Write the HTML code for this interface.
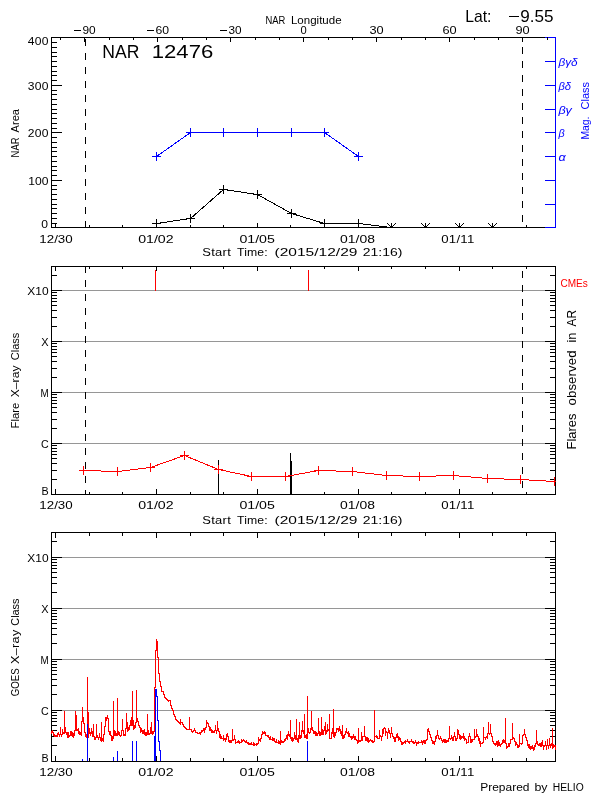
<!DOCTYPE html>
<html><head><meta charset="utf-8"><style>
html,body{margin:0;padding:0;background:#fff;width:600px;height:800px;overflow:hidden}
svg{display:block}
text{font-family:"Liberation Sans",sans-serif}
</style></head><body>
<svg style="will-change:transform" width="600" height="800" viewBox="0 0 600 800" shape-rendering="crispEdges">
<rect x="0" y="0" width="600" height="800" fill="#fff"/>
<rect x="51" y="37" width="505" height="1" fill="#000"/>
<rect x="51" y="227" width="505" height="1" fill="#000"/>
<rect x="51" y="37" width="1" height="191" fill="#000"/>
<rect x="555" y="37" width="1" height="191" fill="#0000ff"/>
<rect x="51" y="227" width="11" height="1" fill="#000"/>
<rect x="51" y="223" width="6" height="1" fill="#000"/>
<rect x="51" y="218" width="6" height="1" fill="#000"/>
<rect x="51" y="213" width="6" height="1" fill="#000"/>
<rect x="51" y="208" width="6" height="1" fill="#000"/>
<rect x="51" y="204" width="6" height="1" fill="#000"/>
<rect x="51" y="199" width="6" height="1" fill="#000"/>
<rect x="51" y="194" width="6" height="1" fill="#000"/>
<rect x="51" y="189" width="6" height="1" fill="#000"/>
<rect x="51" y="185" width="6" height="1" fill="#000"/>
<rect x="51" y="180" width="11" height="1" fill="#000"/>
<rect x="51" y="175" width="6" height="1" fill="#000"/>
<rect x="51" y="170" width="6" height="1" fill="#000"/>
<rect x="51" y="166" width="6" height="1" fill="#000"/>
<rect x="51" y="161" width="6" height="1" fill="#000"/>
<rect x="51" y="156" width="6" height="1" fill="#000"/>
<rect x="51" y="151" width="6" height="1" fill="#000"/>
<rect x="51" y="147" width="6" height="1" fill="#000"/>
<rect x="51" y="142" width="6" height="1" fill="#000"/>
<rect x="51" y="137" width="6" height="1" fill="#000"/>
<rect x="51" y="132" width="11" height="1" fill="#000"/>
<rect x="51" y="128" width="6" height="1" fill="#000"/>
<rect x="51" y="123" width="6" height="1" fill="#000"/>
<rect x="51" y="118" width="6" height="1" fill="#000"/>
<rect x="51" y="113" width="6" height="1" fill="#000"/>
<rect x="51" y="109" width="6" height="1" fill="#000"/>
<rect x="51" y="104" width="6" height="1" fill="#000"/>
<rect x="51" y="99" width="6" height="1" fill="#000"/>
<rect x="51" y="94" width="6" height="1" fill="#000"/>
<rect x="51" y="90" width="6" height="1" fill="#000"/>
<rect x="51" y="85" width="11" height="1" fill="#000"/>
<rect x="51" y="80" width="6" height="1" fill="#000"/>
<rect x="51" y="75" width="6" height="1" fill="#000"/>
<rect x="51" y="71" width="6" height="1" fill="#000"/>
<rect x="51" y="66" width="6" height="1" fill="#000"/>
<rect x="51" y="61" width="6" height="1" fill="#000"/>
<rect x="51" y="56" width="6" height="1" fill="#000"/>
<rect x="51" y="52" width="6" height="1" fill="#000"/>
<rect x="51" y="47" width="6" height="1" fill="#000"/>
<rect x="51" y="42" width="6" height="1" fill="#000"/>
<rect x="51" y="37" width="11" height="1" fill="#000"/>
<rect x="545" y="227" width="11" height="1" fill="#0000ff"/>
<rect x="545" y="204" width="11" height="1" fill="#0000ff"/>
<rect x="545" y="180" width="11" height="1" fill="#0000ff"/>
<rect x="545" y="156" width="11" height="1" fill="#0000ff"/>
<rect x="545" y="132" width="11" height="1" fill="#0000ff"/>
<rect x="545" y="109" width="11" height="1" fill="#0000ff"/>
<rect x="545" y="85" width="11" height="1" fill="#0000ff"/>
<rect x="545" y="61" width="11" height="1" fill="#0000ff"/>
<rect x="545" y="37" width="11" height="1" fill="#0000ff"/>
<rect x="555" y="37" width="1" height="191" fill="#0000ff"/>
<rect x="55" y="223" width="1" height="5" fill="#000"/>
<rect x="89" y="225" width="1" height="3" fill="#000"/>
<rect x="122" y="225" width="1" height="3" fill="#000"/>
<rect x="156" y="223" width="1" height="5" fill="#000"/>
<rect x="190" y="225" width="1" height="3" fill="#000"/>
<rect x="223" y="225" width="1" height="3" fill="#000"/>
<rect x="257" y="223" width="1" height="5" fill="#000"/>
<rect x="290" y="225" width="1" height="3" fill="#000"/>
<rect x="324" y="225" width="1" height="3" fill="#000"/>
<rect x="358" y="223" width="1" height="5" fill="#000"/>
<rect x="391" y="225" width="1" height="3" fill="#000"/>
<rect x="425" y="225" width="1" height="3" fill="#000"/>
<rect x="459" y="223" width="1" height="5" fill="#000"/>
<rect x="492" y="225" width="1" height="3" fill="#000"/>
<rect x="526" y="225" width="1" height="3" fill="#000"/>
<rect x="60" y="37" width="1" height="3" fill="#000"/>
<rect x="84" y="37" width="1" height="5" fill="#000"/>
<rect x="109" y="37" width="1" height="3" fill="#000"/>
<rect x="133" y="37" width="1" height="3" fill="#000"/>
<rect x="157" y="37" width="1" height="5" fill="#000"/>
<rect x="182" y="37" width="1" height="3" fill="#000"/>
<rect x="206" y="37" width="1" height="3" fill="#000"/>
<rect x="230" y="37" width="1" height="5" fill="#000"/>
<rect x="255" y="37" width="1" height="3" fill="#000"/>
<rect x="279" y="37" width="1" height="3" fill="#000"/>
<rect x="303" y="37" width="1" height="5" fill="#000"/>
<rect x="328" y="37" width="1" height="3" fill="#000"/>
<rect x="352" y="37" width="1" height="3" fill="#000"/>
<rect x="376" y="37" width="1" height="5" fill="#000"/>
<rect x="401" y="37" width="1" height="3" fill="#000"/>
<rect x="425" y="37" width="1" height="3" fill="#000"/>
<rect x="449" y="37" width="1" height="5" fill="#000"/>
<rect x="474" y="37" width="1" height="3" fill="#000"/>
<rect x="498" y="37" width="1" height="3" fill="#000"/>
<rect x="522" y="37" width="1" height="5" fill="#000"/>
<rect x="547" y="37" width="1" height="3" fill="#000"/>
<rect x="85" y="39" width="1" height="7" fill="#000"/>
<rect x="85" y="53" width="1" height="7" fill="#000"/>
<rect x="85" y="67" width="1" height="7" fill="#000"/>
<rect x="85" y="81" width="1" height="7" fill="#000"/>
<rect x="85" y="95" width="1" height="7" fill="#000"/>
<rect x="85" y="109" width="1" height="7" fill="#000"/>
<rect x="85" y="123" width="1" height="7" fill="#000"/>
<rect x="85" y="137" width="1" height="7" fill="#000"/>
<rect x="85" y="151" width="1" height="7" fill="#000"/>
<rect x="85" y="165" width="1" height="7" fill="#000"/>
<rect x="85" y="179" width="1" height="7" fill="#000"/>
<rect x="85" y="193" width="1" height="7" fill="#000"/>
<rect x="85" y="207" width="1" height="7" fill="#000"/>
<rect x="85" y="221" width="1" height="7" fill="#000"/>
<rect x="522" y="37" width="1" height="3" fill="#000"/>
<rect x="522" y="47" width="1" height="7" fill="#000"/>
<rect x="522" y="61" width="1" height="7" fill="#000"/>
<rect x="522" y="75" width="1" height="7" fill="#000"/>
<rect x="522" y="89" width="1" height="7" fill="#000"/>
<rect x="522" y="103" width="1" height="7" fill="#000"/>
<rect x="522" y="117" width="1" height="7" fill="#000"/>
<rect x="522" y="131" width="1" height="7" fill="#000"/>
<rect x="522" y="145" width="1" height="7" fill="#000"/>
<rect x="522" y="159" width="1" height="7" fill="#000"/>
<rect x="522" y="173" width="1" height="7" fill="#000"/>
<rect x="522" y="187" width="1" height="7" fill="#000"/>
<rect x="522" y="201" width="1" height="7" fill="#000"/>
<rect x="522" y="215" width="1" height="7" fill="#000"/>
<polyline points="156.5,156.5 190.5,132.5 223.5,132.5 257.5,132.5 291.5,132.5 324.5,132.5 358.5,156.5" fill="none" stroke="#0000ff" stroke-width="1"/>
<rect x="152" y="156" width="9" height="1" fill="#0000ff"/>
<rect x="156" y="152" width="1" height="9" fill="#0000ff"/>
<rect x="186" y="132" width="9" height="1" fill="#0000ff"/>
<rect x="190" y="128" width="1" height="9" fill="#0000ff"/>
<rect x="219" y="132" width="9" height="1" fill="#0000ff"/>
<rect x="223" y="128" width="1" height="9" fill="#0000ff"/>
<rect x="253" y="132" width="9" height="1" fill="#0000ff"/>
<rect x="257" y="128" width="1" height="9" fill="#0000ff"/>
<rect x="287" y="132" width="9" height="1" fill="#0000ff"/>
<rect x="291" y="128" width="1" height="9" fill="#0000ff"/>
<rect x="320" y="132" width="9" height="1" fill="#0000ff"/>
<rect x="324" y="128" width="1" height="9" fill="#0000ff"/>
<rect x="354" y="156" width="9" height="1" fill="#0000ff"/>
<rect x="358" y="152" width="1" height="9" fill="#0000ff"/>
<polyline points="156.5,223.5 190.5,218.5 223.5,189.5 257.5,194.5 291.5,213.5 324.5,223.5 358.5,223.5 391.5,227.5 425.5,227.5 459.5,227.5 492.5,227.5" fill="none" stroke="#000" stroke-width="1"/>
<rect x="152" y="223" width="9" height="1" fill="#000"/>
<rect x="156" y="219" width="1" height="9" fill="#000"/>
<rect x="186" y="218" width="9" height="1" fill="#000"/>
<rect x="190" y="214" width="1" height="9" fill="#000"/>
<rect x="219" y="189" width="9" height="1" fill="#000"/>
<rect x="223" y="185" width="1" height="9" fill="#000"/>
<rect x="253" y="194" width="9" height="1" fill="#000"/>
<rect x="257" y="190" width="1" height="9" fill="#000"/>
<rect x="287" y="213" width="9" height="1" fill="#000"/>
<rect x="291" y="209" width="1" height="9" fill="#000"/>
<rect x="320" y="223" width="9" height="1" fill="#000"/>
<rect x="324" y="219" width="1" height="9" fill="#000"/>
<rect x="354" y="223" width="9" height="1" fill="#000"/>
<rect x="358" y="219" width="1" height="9" fill="#000"/>
<rect x="391" y="223" width="1" height="5" fill="#000"/>
<path d="M387.5,223.5 L391.5,227.5 L395.5,223.5" fill="none" stroke="#000" stroke-width="1"/>
<rect x="390" y="226" width="3" height="1" fill="#000"/>
<rect x="425" y="223" width="1" height="5" fill="#000"/>
<path d="M421.5,223.5 L425.5,227.5 L429.5,223.5" fill="none" stroke="#000" stroke-width="1"/>
<rect x="424" y="226" width="3" height="1" fill="#000"/>
<rect x="459" y="223" width="1" height="5" fill="#000"/>
<path d="M455.5,223.5 L459.5,227.5 L463.5,223.5" fill="none" stroke="#000" stroke-width="1"/>
<rect x="458" y="226" width="3" height="1" fill="#000"/>
<rect x="492" y="223" width="1" height="5" fill="#000"/>
<path d="M488.5,223.5 L492.5,227.5 L496.5,223.5" fill="none" stroke="#000" stroke-width="1"/>
<rect x="491" y="226" width="3" height="1" fill="#000"/>
<text transform="translate(465.20,21.8) scale(0.9817,1)" x="0" y="0" font-size="16" fill="#000" textLength="26.69" lengthAdjust="spacing" >Lat:</text>
<rect x="509" y="16" width="10" height="1" fill="#000"/>
<text transform="translate(520.20,21.8) scale(1.0693,1)" x="0" y="0" font-size="16" fill="#000" textLength="31.14" lengthAdjust="spacing" >9.55</text>
<text transform="translate(265.40,23.8) scale(0.8568,1)" x="0" y="0" font-size="11" fill="#000" textLength="23.22" lengthAdjust="spacing" >NAR</text>
<text transform="translate(290.90,23.8) scale(1.0492,1)" x="0" y="0" font-size="11" fill="#000" textLength="48.32" lengthAdjust="spacing" >Longitude</text>
<text transform="translate(102.30,57.6) scale(0.9486,1)" x="0" y="0" font-size="18.5" fill="#000" textLength="39.06" lengthAdjust="spacing" >NAR</text>
<text transform="translate(151.70,57.6) scale(1.1974,1)" x="0" y="0" font-size="18.5" fill="#000" textLength="51.44" lengthAdjust="spacing" >12476</text>
<rect x="74" y="30" width="7" height="1" fill="#000"/>
<text transform="translate(82.40,33.8) scale(1.0788,1)" x="0" y="0" font-size="11" fill="#000" textLength="12.24" lengthAdjust="spacing" >90</text>
<rect x="147" y="30" width="7" height="1" fill="#000"/>
<text transform="translate(155.40,33.8) scale(1.1115,1)" x="0" y="0" font-size="11" fill="#000" textLength="12.24" lengthAdjust="spacing" >60</text>
<rect x="220" y="30" width="7" height="1" fill="#000"/>
<text transform="translate(228.40,33.8) scale(1.0707,1)" x="0" y="0" font-size="11" fill="#000" textLength="12.24" lengthAdjust="spacing" >30</text>
<text transform="translate(300.40,33.8) scale(1.0135,1)" x="0" y="0" font-size="11" fill="#000" textLength="6.12" lengthAdjust="spacing" >0</text>
<text transform="translate(369.40,33.8) scale(1.1606,1)" x="0" y="0" font-size="11" fill="#000" textLength="12.24" lengthAdjust="spacing" >30</text>
<text transform="translate(442.40,33.8) scale(1.1606,1)" x="0" y="0" font-size="11" fill="#000" textLength="12.24" lengthAdjust="spacing" >60</text>
<text transform="translate(515.40,33.8) scale(1.1606,1)" x="0" y="0" font-size="11" fill="#000" textLength="12.24" lengthAdjust="spacing" >90</text>
<text transform="translate(27.70,44.7) scale(1.1000,1)" x="0" y="0" font-size="11" fill="#000" textLength="18.82" lengthAdjust="spacing" >400</text>
<text transform="translate(27.80,90) scale(1.1000,1)" x="0" y="0" font-size="11" fill="#000" textLength="18.82" lengthAdjust="spacing" >300</text>
<text transform="translate(27.80,137) scale(1.1000,1)" x="0" y="0" font-size="11" fill="#000" textLength="18.82" lengthAdjust="spacing" >200</text>
<text transform="translate(28.25,184.9) scale(1.1000,1)" x="0" y="0" font-size="11" fill="#000" textLength="18.41" lengthAdjust="spacing" >100</text>
<text transform="translate(41.30,227.7) scale(1.1000,1)" x="0" y="0" font-size="11" fill="#000" textLength="6.55" lengthAdjust="spacing" >0</text>
<text transform="translate(39.30,243) scale(1.1606,1)" x="0" y="0" font-size="11.5" fill="#000" textLength="28.78" lengthAdjust="spacing" >12/30</text>
<text transform="translate(138.15,243) scale(1.2318,1)" x="0" y="0" font-size="11.5" fill="#000" textLength="28.78" lengthAdjust="spacing" >01/02</text>
<text transform="translate(239.40,243) scale(1.2336,1)" x="0" y="0" font-size="11.5" fill="#000" textLength="28.78" lengthAdjust="spacing" >01/05</text>
<text transform="translate(340.10,243) scale(1.2093,1)" x="0" y="0" font-size="11.5" fill="#000" textLength="28.78" lengthAdjust="spacing" >01/08</text>
<text transform="translate(441.20,243) scale(1.1502,1)" x="0" y="0" font-size="11.5" fill="#000" textLength="28.78" lengthAdjust="spacing" >01/11</text>
<text transform="translate(202.15,256.4) scale(1.1000,1)" x="0" y="0" font-size="11.8" fill="#000" textLength="26.14" lengthAdjust="spacing" >Start</text>
<text transform="translate(237.00,256.4) scale(1.0373,1)" x="0" y="0" font-size="11.8" fill="#000" textLength="29.50" lengthAdjust="spacing" >Time:</text>
<text transform="translate(274.50,256.4) scale(1.3161,1)" x="0" y="0" font-size="11.8" fill="#000" textLength="62.99" lengthAdjust="spacing" >(2015/12/29</text>
<text transform="translate(362.70,256.4) scale(1.1866,1)" x="0" y="0" font-size="11.8" fill="#000" textLength="33.46" lengthAdjust="spacing" >21:16)</text>
<text transform="translate(558.40,66) scale(1.0262,1)" x="0" y="0" font-size="11.5" fill="#0000ff" textLength="18.71" lengthAdjust="spacing" font-style="italic">&#946;&#947;&#948;</text>
<text transform="translate(558.40,90) scale(0.9722,1)" x="0" y="0" font-size="11.5" fill="#0000ff" textLength="12.96" lengthAdjust="spacing" font-style="italic">&#946;&#948;</text>
<text transform="translate(558.40,114) scale(1.0958,1)" x="0" y="0" font-size="11.5" fill="#0000ff" textLength="12.32" lengthAdjust="spacing" font-style="italic">&#946;&#947;</text>
<text transform="translate(558.40,137) scale(0.9437,1)" x="0" y="0" font-size="11.5" fill="#0000ff" textLength="6.57" lengthAdjust="spacing" font-style="italic">&#946;</text>
<text transform="translate(558.40,161) scale(1.1000,1)" x="0" y="0" font-size="11.5" fill="#0000ff" textLength="6.73" lengthAdjust="spacing" font-style="italic">&#945;</text>
<text transform="translate(18.8,147.45) rotate(-90) scale(0.8196,1)" x="0" y="0" font-size="11.5" text-anchor="middle" fill="#000" textLength="24.28" lengthAdjust="spacing">NAR</text>
<text transform="translate(18.8,120.75) rotate(-90) scale(0.9592,1)" x="0" y="0" font-size="11.5" text-anchor="middle" fill="#000" textLength="24.29" lengthAdjust="spacing">Area</text>
<text transform="translate(589,128.0) rotate(-90) scale(0.8996,1)" x="0" y="0" font-size="11.5" text-anchor="middle" fill="#0000ff" textLength="25.57" lengthAdjust="spacing">Mag.</text>
<text transform="translate(589,95.75) rotate(-90) scale(0.9563,1)" x="0" y="0" font-size="11.5" text-anchor="middle" fill="#0000ff" textLength="28.76" lengthAdjust="spacing">Class</text>
<rect x="51" y="266" width="505" height="1" fill="#000"/>
<rect x="51" y="494" width="505" height="1" fill="#000"/>
<rect x="51" y="266" width="1" height="229" fill="#000"/>
<rect x="555" y="266" width="1" height="229" fill="#000"/>
<rect x="51" y="494" width="11" height="1" fill="#000"/>
<rect x="545" y="494" width="11" height="1" fill="#000"/>
<rect x="51" y="479" width="6" height="1" fill="#000"/>
<rect x="550" y="479" width="6" height="1" fill="#000"/>
<rect x="51" y="470" width="6" height="1" fill="#000"/>
<rect x="550" y="470" width="6" height="1" fill="#000"/>
<rect x="51" y="463" width="6" height="1" fill="#000"/>
<rect x="550" y="463" width="6" height="1" fill="#000"/>
<rect x="51" y="458" width="6" height="1" fill="#000"/>
<rect x="550" y="458" width="6" height="1" fill="#000"/>
<rect x="51" y="454" width="6" height="1" fill="#000"/>
<rect x="550" y="454" width="6" height="1" fill="#000"/>
<rect x="51" y="451" width="6" height="1" fill="#000"/>
<rect x="550" y="451" width="6" height="1" fill="#000"/>
<rect x="51" y="448" width="6" height="1" fill="#000"/>
<rect x="550" y="448" width="6" height="1" fill="#000"/>
<rect x="51" y="445" width="6" height="1" fill="#000"/>
<rect x="550" y="445" width="6" height="1" fill="#000"/>
<rect x="51" y="443" width="11" height="1" fill="#000"/>
<rect x="545" y="443" width="11" height="1" fill="#000"/>
<rect x="62" y="443" width="483" height="1" fill="#969696"/>
<rect x="51" y="428" width="6" height="1" fill="#000"/>
<rect x="550" y="428" width="6" height="1" fill="#000"/>
<rect x="51" y="419" width="6" height="1" fill="#000"/>
<rect x="550" y="419" width="6" height="1" fill="#000"/>
<rect x="51" y="412" width="6" height="1" fill="#000"/>
<rect x="550" y="412" width="6" height="1" fill="#000"/>
<rect x="51" y="407" width="6" height="1" fill="#000"/>
<rect x="550" y="407" width="6" height="1" fill="#000"/>
<rect x="51" y="403" width="6" height="1" fill="#000"/>
<rect x="550" y="403" width="6" height="1" fill="#000"/>
<rect x="51" y="400" width="6" height="1" fill="#000"/>
<rect x="550" y="400" width="6" height="1" fill="#000"/>
<rect x="51" y="397" width="6" height="1" fill="#000"/>
<rect x="550" y="397" width="6" height="1" fill="#000"/>
<rect x="51" y="394" width="6" height="1" fill="#000"/>
<rect x="550" y="394" width="6" height="1" fill="#000"/>
<rect x="51" y="392" width="11" height="1" fill="#000"/>
<rect x="545" y="392" width="11" height="1" fill="#000"/>
<rect x="62" y="392" width="483" height="1" fill="#969696"/>
<rect x="51" y="377" width="6" height="1" fill="#000"/>
<rect x="550" y="377" width="6" height="1" fill="#000"/>
<rect x="51" y="368" width="6" height="1" fill="#000"/>
<rect x="550" y="368" width="6" height="1" fill="#000"/>
<rect x="51" y="361" width="6" height="1" fill="#000"/>
<rect x="550" y="361" width="6" height="1" fill="#000"/>
<rect x="51" y="356" width="6" height="1" fill="#000"/>
<rect x="550" y="356" width="6" height="1" fill="#000"/>
<rect x="51" y="352" width="6" height="1" fill="#000"/>
<rect x="550" y="352" width="6" height="1" fill="#000"/>
<rect x="51" y="349" width="6" height="1" fill="#000"/>
<rect x="550" y="349" width="6" height="1" fill="#000"/>
<rect x="51" y="346" width="6" height="1" fill="#000"/>
<rect x="550" y="346" width="6" height="1" fill="#000"/>
<rect x="51" y="343" width="6" height="1" fill="#000"/>
<rect x="550" y="343" width="6" height="1" fill="#000"/>
<rect x="51" y="341" width="11" height="1" fill="#000"/>
<rect x="545" y="341" width="11" height="1" fill="#000"/>
<rect x="62" y="341" width="483" height="1" fill="#969696"/>
<rect x="51" y="326" width="6" height="1" fill="#000"/>
<rect x="550" y="326" width="6" height="1" fill="#000"/>
<rect x="51" y="317" width="6" height="1" fill="#000"/>
<rect x="550" y="317" width="6" height="1" fill="#000"/>
<rect x="51" y="310" width="6" height="1" fill="#000"/>
<rect x="550" y="310" width="6" height="1" fill="#000"/>
<rect x="51" y="305" width="6" height="1" fill="#000"/>
<rect x="550" y="305" width="6" height="1" fill="#000"/>
<rect x="51" y="301" width="6" height="1" fill="#000"/>
<rect x="550" y="301" width="6" height="1" fill="#000"/>
<rect x="51" y="298" width="6" height="1" fill="#000"/>
<rect x="550" y="298" width="6" height="1" fill="#000"/>
<rect x="51" y="295" width="6" height="1" fill="#000"/>
<rect x="550" y="295" width="6" height="1" fill="#000"/>
<rect x="51" y="292" width="6" height="1" fill="#000"/>
<rect x="550" y="292" width="6" height="1" fill="#000"/>
<rect x="51" y="290" width="11" height="1" fill="#000"/>
<rect x="545" y="290" width="11" height="1" fill="#000"/>
<rect x="62" y="290" width="483" height="1" fill="#969696"/>
<rect x="51" y="275" width="6" height="1" fill="#000"/>
<rect x="550" y="275" width="6" height="1" fill="#000"/>
<rect x="51" y="266" width="6" height="1" fill="#000"/>
<rect x="550" y="266" width="6" height="1" fill="#000"/>
<rect x="55" y="489" width="1" height="6" fill="#000"/>
<rect x="55" y="266" width="1" height="5" fill="#000"/>
<rect x="89" y="492" width="1" height="3" fill="#000"/>
<rect x="89" y="266" width="1" height="3" fill="#000"/>
<rect x="122" y="492" width="1" height="3" fill="#000"/>
<rect x="122" y="266" width="1" height="3" fill="#000"/>
<rect x="156" y="489" width="1" height="6" fill="#000"/>
<rect x="156" y="266" width="1" height="5" fill="#000"/>
<rect x="190" y="492" width="1" height="3" fill="#000"/>
<rect x="190" y="266" width="1" height="3" fill="#000"/>
<rect x="223" y="492" width="1" height="3" fill="#000"/>
<rect x="223" y="266" width="1" height="3" fill="#000"/>
<rect x="257" y="489" width="1" height="6" fill="#000"/>
<rect x="257" y="266" width="1" height="5" fill="#000"/>
<rect x="290" y="492" width="1" height="3" fill="#000"/>
<rect x="290" y="266" width="1" height="3" fill="#000"/>
<rect x="324" y="492" width="1" height="3" fill="#000"/>
<rect x="324" y="266" width="1" height="3" fill="#000"/>
<rect x="358" y="489" width="1" height="6" fill="#000"/>
<rect x="358" y="266" width="1" height="5" fill="#000"/>
<rect x="391" y="492" width="1" height="3" fill="#000"/>
<rect x="391" y="266" width="1" height="3" fill="#000"/>
<rect x="425" y="492" width="1" height="3" fill="#000"/>
<rect x="425" y="266" width="1" height="3" fill="#000"/>
<rect x="459" y="489" width="1" height="6" fill="#000"/>
<rect x="459" y="266" width="1" height="5" fill="#000"/>
<rect x="492" y="492" width="1" height="3" fill="#000"/>
<rect x="492" y="266" width="1" height="3" fill="#000"/>
<rect x="526" y="492" width="1" height="3" fill="#000"/>
<rect x="526" y="266" width="1" height="3" fill="#000"/>
<rect x="51" y="532" width="505" height="1" fill="#000"/>
<rect x="51" y="761" width="505" height="1" fill="#000"/>
<rect x="51" y="532" width="1" height="230" fill="#000"/>
<rect x="555" y="532" width="1" height="230" fill="#000"/>
<rect x="51" y="761" width="11" height="1" fill="#000"/>
<rect x="545" y="761" width="11" height="1" fill="#000"/>
<rect x="51" y="745" width="6" height="1" fill="#000"/>
<rect x="550" y="745" width="6" height="1" fill="#000"/>
<rect x="51" y="736" width="6" height="1" fill="#000"/>
<rect x="550" y="736" width="6" height="1" fill="#000"/>
<rect x="51" y="730" width="6" height="1" fill="#000"/>
<rect x="550" y="730" width="6" height="1" fill="#000"/>
<rect x="51" y="725" width="6" height="1" fill="#000"/>
<rect x="550" y="725" width="6" height="1" fill="#000"/>
<rect x="51" y="721" width="6" height="1" fill="#000"/>
<rect x="550" y="721" width="6" height="1" fill="#000"/>
<rect x="51" y="718" width="6" height="1" fill="#000"/>
<rect x="550" y="718" width="6" height="1" fill="#000"/>
<rect x="51" y="715" width="6" height="1" fill="#000"/>
<rect x="550" y="715" width="6" height="1" fill="#000"/>
<rect x="51" y="712" width="6" height="1" fill="#000"/>
<rect x="550" y="712" width="6" height="1" fill="#000"/>
<rect x="51" y="710" width="11" height="1" fill="#000"/>
<rect x="545" y="710" width="11" height="1" fill="#000"/>
<rect x="62" y="710" width="483" height="1" fill="#969696"/>
<rect x="51" y="694" width="6" height="1" fill="#000"/>
<rect x="550" y="694" width="6" height="1" fill="#000"/>
<rect x="51" y="685" width="6" height="1" fill="#000"/>
<rect x="550" y="685" width="6" height="1" fill="#000"/>
<rect x="51" y="679" width="6" height="1" fill="#000"/>
<rect x="550" y="679" width="6" height="1" fill="#000"/>
<rect x="51" y="674" width="6" height="1" fill="#000"/>
<rect x="550" y="674" width="6" height="1" fill="#000"/>
<rect x="51" y="670" width="6" height="1" fill="#000"/>
<rect x="550" y="670" width="6" height="1" fill="#000"/>
<rect x="51" y="667" width="6" height="1" fill="#000"/>
<rect x="550" y="667" width="6" height="1" fill="#000"/>
<rect x="51" y="664" width="6" height="1" fill="#000"/>
<rect x="550" y="664" width="6" height="1" fill="#000"/>
<rect x="51" y="661" width="6" height="1" fill="#000"/>
<rect x="550" y="661" width="6" height="1" fill="#000"/>
<rect x="51" y="659" width="11" height="1" fill="#000"/>
<rect x="545" y="659" width="11" height="1" fill="#000"/>
<rect x="62" y="659" width="483" height="1" fill="#969696"/>
<rect x="51" y="643" width="6" height="1" fill="#000"/>
<rect x="550" y="643" width="6" height="1" fill="#000"/>
<rect x="51" y="634" width="6" height="1" fill="#000"/>
<rect x="550" y="634" width="6" height="1" fill="#000"/>
<rect x="51" y="628" width="6" height="1" fill="#000"/>
<rect x="550" y="628" width="6" height="1" fill="#000"/>
<rect x="51" y="623" width="6" height="1" fill="#000"/>
<rect x="550" y="623" width="6" height="1" fill="#000"/>
<rect x="51" y="619" width="6" height="1" fill="#000"/>
<rect x="550" y="619" width="6" height="1" fill="#000"/>
<rect x="51" y="616" width="6" height="1" fill="#000"/>
<rect x="550" y="616" width="6" height="1" fill="#000"/>
<rect x="51" y="613" width="6" height="1" fill="#000"/>
<rect x="550" y="613" width="6" height="1" fill="#000"/>
<rect x="51" y="610" width="6" height="1" fill="#000"/>
<rect x="550" y="610" width="6" height="1" fill="#000"/>
<rect x="51" y="608" width="11" height="1" fill="#000"/>
<rect x="545" y="608" width="11" height="1" fill="#000"/>
<rect x="62" y="608" width="483" height="1" fill="#969696"/>
<rect x="51" y="592" width="6" height="1" fill="#000"/>
<rect x="550" y="592" width="6" height="1" fill="#000"/>
<rect x="51" y="583" width="6" height="1" fill="#000"/>
<rect x="550" y="583" width="6" height="1" fill="#000"/>
<rect x="51" y="577" width="6" height="1" fill="#000"/>
<rect x="550" y="577" width="6" height="1" fill="#000"/>
<rect x="51" y="572" width="6" height="1" fill="#000"/>
<rect x="550" y="572" width="6" height="1" fill="#000"/>
<rect x="51" y="568" width="6" height="1" fill="#000"/>
<rect x="550" y="568" width="6" height="1" fill="#000"/>
<rect x="51" y="565" width="6" height="1" fill="#000"/>
<rect x="550" y="565" width="6" height="1" fill="#000"/>
<rect x="51" y="562" width="6" height="1" fill="#000"/>
<rect x="550" y="562" width="6" height="1" fill="#000"/>
<rect x="51" y="559" width="6" height="1" fill="#000"/>
<rect x="550" y="559" width="6" height="1" fill="#000"/>
<rect x="51" y="557" width="11" height="1" fill="#000"/>
<rect x="545" y="557" width="11" height="1" fill="#000"/>
<rect x="62" y="557" width="483" height="1" fill="#969696"/>
<rect x="51" y="541" width="6" height="1" fill="#000"/>
<rect x="550" y="541" width="6" height="1" fill="#000"/>
<rect x="51" y="532" width="6" height="1" fill="#000"/>
<rect x="550" y="532" width="6" height="1" fill="#000"/>
<rect x="55" y="756" width="1" height="6" fill="#000"/>
<rect x="55" y="532" width="1" height="6" fill="#000"/>
<rect x="89" y="758" width="1" height="4" fill="#000"/>
<rect x="89" y="532" width="1" height="4" fill="#000"/>
<rect x="122" y="758" width="1" height="4" fill="#000"/>
<rect x="122" y="532" width="1" height="4" fill="#000"/>
<rect x="156" y="756" width="1" height="6" fill="#000"/>
<rect x="156" y="532" width="1" height="6" fill="#000"/>
<rect x="190" y="758" width="1" height="4" fill="#000"/>
<rect x="190" y="532" width="1" height="4" fill="#000"/>
<rect x="223" y="758" width="1" height="4" fill="#000"/>
<rect x="223" y="532" width="1" height="4" fill="#000"/>
<rect x="257" y="756" width="1" height="6" fill="#000"/>
<rect x="257" y="532" width="1" height="6" fill="#000"/>
<rect x="290" y="758" width="1" height="4" fill="#000"/>
<rect x="290" y="532" width="1" height="4" fill="#000"/>
<rect x="324" y="758" width="1" height="4" fill="#000"/>
<rect x="324" y="532" width="1" height="4" fill="#000"/>
<rect x="358" y="756" width="1" height="6" fill="#000"/>
<rect x="358" y="532" width="1" height="6" fill="#000"/>
<rect x="391" y="758" width="1" height="4" fill="#000"/>
<rect x="391" y="532" width="1" height="4" fill="#000"/>
<rect x="425" y="758" width="1" height="4" fill="#000"/>
<rect x="425" y="532" width="1" height="4" fill="#000"/>
<rect x="459" y="756" width="1" height="6" fill="#000"/>
<rect x="459" y="532" width="1" height="6" fill="#000"/>
<rect x="492" y="758" width="1" height="4" fill="#000"/>
<rect x="492" y="532" width="1" height="4" fill="#000"/>
<rect x="526" y="758" width="1" height="4" fill="#000"/>
<rect x="526" y="532" width="1" height="4" fill="#000"/>
<text transform="translate(27.30,295) scale(1.0883,1)" x="0" y="0" font-size="11" fill="#000" textLength="19.57" lengthAdjust="spacing" >X10</text>
<text transform="translate(41.30,346) scale(0.9950,1)" x="0" y="0" font-size="11" fill="#000" textLength="7.34" lengthAdjust="spacing" >X</text>
<text transform="translate(40.40,397) scale(0.8949,1)" x="0" y="0" font-size="11" fill="#000" textLength="9.16" lengthAdjust="spacing" >M</text>
<text transform="translate(40.90,447.5) scale(0.9693,1)" x="0" y="0" font-size="11" fill="#000" textLength="7.94" lengthAdjust="spacing" >C</text>
<text transform="translate(41.40,495.2) scale(0.9813,1)" x="0" y="0" font-size="11" fill="#000" textLength="7.34" lengthAdjust="spacing" >B</text>
<text transform="translate(27.30,562) scale(1.0883,1)" x="0" y="0" font-size="11" fill="#000" textLength="19.57" lengthAdjust="spacing" >X10</text>
<text transform="translate(41.30,613) scale(0.9950,1)" x="0" y="0" font-size="11" fill="#000" textLength="7.34" lengthAdjust="spacing" >X</text>
<text transform="translate(40.40,664) scale(0.8949,1)" x="0" y="0" font-size="11" fill="#000" textLength="9.16" lengthAdjust="spacing" >M</text>
<text transform="translate(40.90,714.5) scale(0.9693,1)" x="0" y="0" font-size="11" fill="#000" textLength="7.94" lengthAdjust="spacing" >C</text>
<text transform="translate(41.40,762.2) scale(0.9813,1)" x="0" y="0" font-size="11" fill="#000" textLength="7.34" lengthAdjust="spacing" >B</text>
<text transform="translate(39.30,508.7) scale(1.1606,1)" x="0" y="0" font-size="11.5" fill="#000" textLength="28.78" lengthAdjust="spacing" >12/30</text>
<text transform="translate(138.15,508.7) scale(1.2318,1)" x="0" y="0" font-size="11.5" fill="#000" textLength="28.78" lengthAdjust="spacing" >01/02</text>
<text transform="translate(239.40,508.7) scale(1.2336,1)" x="0" y="0" font-size="11.5" fill="#000" textLength="28.78" lengthAdjust="spacing" >01/05</text>
<text transform="translate(340.10,508.7) scale(1.2093,1)" x="0" y="0" font-size="11.5" fill="#000" textLength="28.78" lengthAdjust="spacing" >01/08</text>
<text transform="translate(441.20,508.7) scale(1.1502,1)" x="0" y="0" font-size="11.5" fill="#000" textLength="28.78" lengthAdjust="spacing" >01/11</text>
<text transform="translate(39.30,775.7) scale(1.1606,1)" x="0" y="0" font-size="11.5" fill="#000" textLength="28.78" lengthAdjust="spacing" >12/30</text>
<text transform="translate(138.15,775.7) scale(1.2318,1)" x="0" y="0" font-size="11.5" fill="#000" textLength="28.78" lengthAdjust="spacing" >01/02</text>
<text transform="translate(239.40,775.7) scale(1.2336,1)" x="0" y="0" font-size="11.5" fill="#000" textLength="28.78" lengthAdjust="spacing" >01/05</text>
<text transform="translate(340.10,775.7) scale(1.2093,1)" x="0" y="0" font-size="11.5" fill="#000" textLength="28.78" lengthAdjust="spacing" >01/08</text>
<text transform="translate(441.20,775.7) scale(1.1502,1)" x="0" y="0" font-size="11.5" fill="#000" textLength="28.78" lengthAdjust="spacing" >01/11</text>
<text transform="translate(202.15,523.8) scale(1.1000,1)" x="0" y="0" font-size="11.8" fill="#000" textLength="26.14" lengthAdjust="spacing" >Start</text>
<text transform="translate(237.00,523.8) scale(1.0373,1)" x="0" y="0" font-size="11.8" fill="#000" textLength="29.50" lengthAdjust="spacing" >Time:</text>
<text transform="translate(274.50,523.8) scale(1.3161,1)" x="0" y="0" font-size="11.8" fill="#000" textLength="62.99" lengthAdjust="spacing" >(2015/12/29</text>
<text transform="translate(362.70,523.8) scale(1.1866,1)" x="0" y="0" font-size="11.8" fill="#000" textLength="33.46" lengthAdjust="spacing" >21:16)</text>
<text transform="translate(19.2,415.625) rotate(-90) scale(0.9828,1)" x="0" y="0" font-size="11.5" text-anchor="middle" fill="#000" textLength="26.20" lengthAdjust="spacing">Flare</text>
<text transform="translate(19.2,381.4) rotate(-90) scale(1.0585,1)" x="0" y="0" font-size="11.5" text-anchor="middle" fill="#000" textLength="30.04" lengthAdjust="spacing">X&#8211;ray</text>
<text transform="translate(19.2,346.475) rotate(-90) scale(0.9581,1)" x="0" y="0" font-size="11.5" text-anchor="middle" fill="#000" textLength="28.76" lengthAdjust="spacing">Class</text>
<text transform="translate(19.2,682.25) rotate(-90) scale(0.8426,1)" x="0" y="0" font-size="11.5" text-anchor="middle" fill="#000" textLength="33.23" lengthAdjust="spacing">GOES</text>
<text transform="translate(19.2,646.85) rotate(-90) scale(1.1000,1)" x="0" y="0" font-size="11.5" text-anchor="middle" fill="#000" textLength="31.18" lengthAdjust="spacing">X&#8211;ray</text>
<text transform="translate(19.2,612.125) rotate(-90) scale(0.9476,1)" x="0" y="0" font-size="11.5" text-anchor="middle" fill="#000" textLength="28.76" lengthAdjust="spacing">Class</text>
<text transform="translate(576,431.5) rotate(-90) scale(1.0798,1)" x="0" y="0" font-size="12" text-anchor="middle" fill="#000" textLength="33.34" lengthAdjust="spacing">Flares</text>
<text transform="translate(576,378.0) rotate(-90) scale(1.1000,1)" x="0" y="0" font-size="12" text-anchor="middle" fill="#000" textLength="50.00" lengthAdjust="spacing">observed</text>
<text transform="translate(576,337.5) rotate(-90) scale(1.0707,1)" x="0" y="0" font-size="12" text-anchor="middle" fill="#000" textLength="9.34" lengthAdjust="spacing">in</text>
<text transform="translate(576,318.3) rotate(-90) scale(0.9838,1)" x="0" y="0" font-size="12" text-anchor="middle" fill="#000" textLength="16.67" lengthAdjust="spacing">AR</text>
<text transform="translate(560.40,287) scale(0.8987,1)" x="0" y="0" font-size="11.2" fill="#ff0000" textLength="30.49" lengthAdjust="spacing" >CMEs</text>
<text transform="translate(480.20,791) scale(1.0421,1)" x="0" y="0" font-size="11.5" fill="#000" textLength="47.31" lengthAdjust="spacing" >Prepared</text>
<text transform="translate(534.40,791) scale(1.0786,1)" x="0" y="0" font-size="11.5" fill="#000" textLength="12.15" lengthAdjust="spacing" >by</text>
<text transform="translate(552.80,791) scale(0.8954,1)" x="0" y="0" font-size="11.5" fill="#000" textLength="34.51" lengthAdjust="spacing" >HELIO</text>
<rect x="85" y="266" width="1" height="7" fill="#000"/>
<rect x="85" y="280" width="1" height="7" fill="#000"/>
<rect x="85" y="294" width="1" height="7" fill="#000"/>
<rect x="85" y="308" width="1" height="7" fill="#000"/>
<rect x="85" y="322" width="1" height="7" fill="#000"/>
<rect x="85" y="336" width="1" height="7" fill="#000"/>
<rect x="85" y="350" width="1" height="7" fill="#000"/>
<rect x="85" y="364" width="1" height="7" fill="#000"/>
<rect x="85" y="378" width="1" height="7" fill="#000"/>
<rect x="85" y="392" width="1" height="7" fill="#000"/>
<rect x="85" y="406" width="1" height="7" fill="#000"/>
<rect x="85" y="420" width="1" height="7" fill="#000"/>
<rect x="85" y="434" width="1" height="7" fill="#000"/>
<rect x="85" y="448" width="1" height="7" fill="#000"/>
<rect x="85" y="462" width="1" height="7" fill="#000"/>
<rect x="85" y="476" width="1" height="7" fill="#000"/>
<rect x="85" y="490" width="1" height="5" fill="#000"/>
<rect x="522" y="271" width="1" height="7" fill="#000"/>
<rect x="522" y="285" width="1" height="7" fill="#000"/>
<rect x="522" y="299" width="1" height="7" fill="#000"/>
<rect x="522" y="313" width="1" height="7" fill="#000"/>
<rect x="522" y="327" width="1" height="7" fill="#000"/>
<rect x="522" y="341" width="1" height="7" fill="#000"/>
<rect x="522" y="355" width="1" height="7" fill="#000"/>
<rect x="522" y="369" width="1" height="7" fill="#000"/>
<rect x="522" y="383" width="1" height="7" fill="#000"/>
<rect x="522" y="397" width="1" height="7" fill="#000"/>
<rect x="522" y="411" width="1" height="7" fill="#000"/>
<rect x="522" y="425" width="1" height="7" fill="#000"/>
<rect x="522" y="439" width="1" height="7" fill="#000"/>
<rect x="522" y="453" width="1" height="7" fill="#000"/>
<rect x="522" y="467" width="1" height="7" fill="#000"/>
<rect x="522" y="481" width="1" height="7" fill="#000"/>
<rect x="155" y="270" width="1" height="21" fill="#ff0000"/>
<rect x="308" y="270" width="1" height="21" fill="#ff0000"/>
<rect x="218" y="460" width="1" height="35" fill="#000"/>
<rect x="290" y="453" width="1" height="42" fill="#000"/>
<rect x="291" y="461" width="1" height="34" fill="#000"/>
<polyline points="83.5,470.5 117.5,471.5 150.5,467.5 184.5,455.5 218.5,469.5 251.5,476.5 285.5,476.5 318.5,470.5 352.5,471.5 386.5,475.5 419.5,476.5 453.5,475.5 487.5,478.5 520.5,479.5 554.5,481.5" fill="none" stroke="#ff0000" stroke-width="1"/>
<rect x="79" y="470" width="9" height="1" fill="#ff0000"/>
<rect x="83" y="466" width="1" height="9" fill="#ff0000"/>
<rect x="113" y="471" width="9" height="1" fill="#ff0000"/>
<rect x="117" y="467" width="1" height="9" fill="#ff0000"/>
<rect x="146" y="467" width="9" height="1" fill="#ff0000"/>
<rect x="150" y="463" width="1" height="9" fill="#ff0000"/>
<rect x="180" y="455" width="9" height="1" fill="#ff0000"/>
<rect x="184" y="451" width="1" height="9" fill="#ff0000"/>
<rect x="214" y="469" width="9" height="1" fill="#ff0000"/>
<rect x="218" y="465" width="1" height="9" fill="#ff0000"/>
<rect x="247" y="476" width="9" height="1" fill="#ff0000"/>
<rect x="251" y="472" width="1" height="9" fill="#ff0000"/>
<rect x="281" y="476" width="9" height="1" fill="#ff0000"/>
<rect x="285" y="472" width="1" height="9" fill="#ff0000"/>
<rect x="314" y="470" width="9" height="1" fill="#ff0000"/>
<rect x="318" y="466" width="1" height="9" fill="#ff0000"/>
<rect x="348" y="471" width="9" height="1" fill="#ff0000"/>
<rect x="352" y="467" width="1" height="9" fill="#ff0000"/>
<rect x="382" y="475" width="9" height="1" fill="#ff0000"/>
<rect x="386" y="471" width="1" height="9" fill="#ff0000"/>
<rect x="415" y="476" width="9" height="1" fill="#ff0000"/>
<rect x="419" y="472" width="1" height="9" fill="#ff0000"/>
<rect x="449" y="475" width="9" height="1" fill="#ff0000"/>
<rect x="453" y="471" width="1" height="9" fill="#ff0000"/>
<rect x="483" y="478" width="9" height="1" fill="#ff0000"/>
<rect x="487" y="474" width="1" height="9" fill="#ff0000"/>
<rect x="516" y="479" width="9" height="1" fill="#ff0000"/>
<rect x="520" y="475" width="1" height="9" fill="#ff0000"/>
<rect x="550" y="481" width="6" height="1" fill="#ff0000"/>
<rect x="554" y="477" width="1" height="9" fill="#ff0000"/>
<rect x="51" y="731" width="1" height="3" fill="#ff0000"/>
<rect x="52" y="730" width="1" height="3" fill="#ff0000"/>
<rect x="53" y="732" width="1" height="4" fill="#ff0000"/>
<rect x="54" y="734" width="1" height="3" fill="#ff0000"/>
<rect x="55" y="735" width="1" height="2" fill="#ff0000"/>
<rect x="56" y="735" width="1" height="2" fill="#ff0000"/>
<rect x="57" y="733" width="1" height="4" fill="#ff0000"/>
<rect x="58" y="732" width="1" height="3" fill="#ff0000"/>
<rect x="59" y="734" width="1" height="3" fill="#ff0000"/>
<rect x="60" y="727" width="1" height="8" fill="#ff0000"/>
<rect x="61" y="734" width="1" height="3" fill="#ff0000"/>
<rect x="62" y="729" width="1" height="6" fill="#ff0000"/>
<rect x="63" y="732" width="1" height="2" fill="#ff0000"/>
<rect x="64" y="711" width="1" height="23" fill="#ff0000"/>
<rect x="65" y="727" width="1" height="6" fill="#ff0000"/>
<rect x="66" y="732" width="1" height="3" fill="#ff0000"/>
<rect x="67" y="732" width="1" height="6" fill="#ff0000"/>
<rect x="68" y="732" width="1" height="6" fill="#ff0000"/>
<rect x="69" y="735" width="1" height="2" fill="#ff0000"/>
<rect x="70" y="731" width="1" height="5" fill="#ff0000"/>
<rect x="71" y="731" width="1" height="5" fill="#ff0000"/>
<rect x="72" y="732" width="1" height="5" fill="#ff0000"/>
<rect x="73" y="733" width="1" height="5" fill="#ff0000"/>
<rect x="74" y="730" width="1" height="6" fill="#ff0000"/>
<rect x="75" y="711" width="1" height="20" fill="#ff0000"/>
<rect x="76" y="715" width="1" height="16" fill="#ff0000"/>
<rect x="77" y="729" width="1" height="2" fill="#ff0000"/>
<rect x="78" y="728" width="1" height="6" fill="#ff0000"/>
<rect x="79" y="731" width="1" height="4" fill="#ff0000"/>
<rect x="80" y="732" width="1" height="3" fill="#ff0000"/>
<rect x="81" y="721" width="1" height="15" fill="#ff0000"/>
<rect x="82" y="707" width="1" height="15" fill="#ff0000"/>
<rect x="83" y="717" width="1" height="7" fill="#ff0000"/>
<rect x="84" y="723" width="1" height="10" fill="#ff0000"/>
<rect x="85" y="732" width="1" height="5" fill="#ff0000"/>
<rect x="86" y="734" width="1" height="4" fill="#ff0000"/>
<rect x="87" y="677" width="1" height="63" fill="#ff0000"/>
<rect x="88" y="712" width="1" height="26" fill="#ff0000"/>
<rect x="89" y="728" width="1" height="6" fill="#ff0000"/>
<rect x="90" y="732" width="1" height="4" fill="#ff0000"/>
<rect x="91" y="728" width="1" height="6" fill="#ff0000"/>
<rect x="92" y="731" width="1" height="6" fill="#ff0000"/>
<rect x="93" y="724" width="1" height="13" fill="#ff0000"/>
<rect x="94" y="736" width="1" height="4" fill="#ff0000"/>
<rect x="95" y="737" width="1" height="3" fill="#ff0000"/>
<rect x="96" y="724" width="1" height="14" fill="#ff0000"/>
<rect x="97" y="735" width="1" height="3" fill="#ff0000"/>
<rect x="98" y="737" width="1" height="3" fill="#ff0000"/>
<rect x="99" y="733" width="1" height="5" fill="#ff0000"/>
<rect x="100" y="737" width="1" height="4" fill="#ff0000"/>
<rect x="101" y="722" width="1" height="20" fill="#ff0000"/>
<rect x="102" y="738" width="1" height="3" fill="#ff0000"/>
<rect x="103" y="734" width="1" height="8" fill="#ff0000"/>
<rect x="104" y="726" width="1" height="9" fill="#ff0000"/>
<rect x="105" y="717" width="1" height="10" fill="#ff0000"/>
<rect x="106" y="717" width="1" height="4" fill="#ff0000"/>
<rect x="107" y="715" width="1" height="4" fill="#ff0000"/>
<rect x="108" y="718" width="1" height="14" fill="#ff0000"/>
<rect x="109" y="731" width="1" height="4" fill="#ff0000"/>
<rect x="110" y="731" width="1" height="5" fill="#ff0000"/>
<rect x="111" y="735" width="1" height="6" fill="#ff0000"/>
<rect x="112" y="736" width="1" height="5" fill="#ff0000"/>
<rect x="113" y="701" width="1" height="38" fill="#ff0000"/>
<rect x="114" y="730" width="1" height="6" fill="#ff0000"/>
<rect x="115" y="731" width="1" height="5" fill="#ff0000"/>
<rect x="116" y="733" width="1" height="3" fill="#ff0000"/>
<rect x="117" y="698" width="1" height="38" fill="#ff0000"/>
<rect x="118" y="731" width="1" height="4" fill="#ff0000"/>
<rect x="119" y="732" width="1" height="4" fill="#ff0000"/>
<rect x="120" y="735" width="1" height="2" fill="#ff0000"/>
<rect x="121" y="730" width="1" height="6" fill="#ff0000"/>
<rect x="122" y="719" width="1" height="12" fill="#ff0000"/>
<rect x="123" y="730" width="1" height="6" fill="#ff0000"/>
<rect x="124" y="734" width="1" height="2" fill="#ff0000"/>
<rect x="125" y="728" width="1" height="8" fill="#ff0000"/>
<rect x="126" y="713" width="1" height="16" fill="#ff0000"/>
<rect x="127" y="722" width="1" height="10" fill="#ff0000"/>
<rect x="128" y="727" width="1" height="4" fill="#ff0000"/>
<rect x="129" y="725" width="1" height="5" fill="#ff0000"/>
<rect x="130" y="720" width="1" height="6" fill="#ff0000"/>
<rect x="131" y="717" width="1" height="9" fill="#ff0000"/>
<rect x="132" y="691" width="1" height="35" fill="#ff0000"/>
<rect x="133" y="720" width="1" height="10" fill="#ff0000"/>
<rect x="134" y="725" width="1" height="4" fill="#ff0000"/>
<rect x="135" y="722" width="1" height="6" fill="#ff0000"/>
<rect x="136" y="690" width="1" height="33" fill="#ff0000"/>
<rect x="137" y="718" width="1" height="4" fill="#ff0000"/>
<rect x="138" y="721" width="1" height="5" fill="#ff0000"/>
<rect x="139" y="725" width="1" height="3" fill="#ff0000"/>
<rect x="140" y="727" width="1" height="6" fill="#ff0000"/>
<rect x="141" y="728" width="1" height="4" fill="#ff0000"/>
<rect x="142" y="730" width="1" height="4" fill="#ff0000"/>
<rect x="143" y="730" width="1" height="4" fill="#ff0000"/>
<rect x="144" y="729" width="1" height="6" fill="#ff0000"/>
<rect x="145" y="732" width="1" height="4" fill="#ff0000"/>
<rect x="146" y="732" width="1" height="4" fill="#ff0000"/>
<rect x="147" y="714" width="1" height="21" fill="#ff0000"/>
<rect x="148" y="730" width="1" height="5" fill="#ff0000"/>
<rect x="149" y="733" width="1" height="2" fill="#ff0000"/>
<rect x="150" y="727" width="1" height="7" fill="#ff0000"/>
<rect x="151" y="722" width="1" height="12" fill="#ff0000"/>
<rect x="152" y="731" width="1" height="4" fill="#ff0000"/>
<rect x="153" y="731" width="1" height="3" fill="#ff0000"/>
<rect x="154" y="687" width="1" height="45" fill="#ff0000"/>
<rect x="155" y="650" width="1" height="38" fill="#ff0000"/>
<rect x="156" y="639" width="1" height="12" fill="#ff0000"/>
<rect x="157" y="641" width="1" height="17" fill="#ff0000"/>
<rect x="158" y="657" width="1" height="17" fill="#ff0000"/>
<rect x="159" y="673" width="1" height="9" fill="#ff0000"/>
<rect x="160" y="681" width="1" height="6" fill="#ff0000"/>
<rect x="161" y="686" width="1" height="6" fill="#ff0000"/>
<rect x="162" y="691" width="1" height="1" fill="#ff0000"/>
<rect x="163" y="691" width="1" height="4" fill="#ff0000"/>
<rect x="164" y="694" width="1" height="4" fill="#ff0000"/>
<rect x="165" y="697" width="1" height="2" fill="#ff0000"/>
<rect x="166" y="698" width="1" height="2" fill="#ff0000"/>
<rect x="167" y="699" width="1" height="2" fill="#ff0000"/>
<rect x="168" y="700" width="1" height="2" fill="#ff0000"/>
<rect x="169" y="700" width="1" height="1" fill="#ff0000"/>
<rect x="170" y="700" width="1" height="6" fill="#ff0000"/>
<rect x="171" y="705" width="1" height="4" fill="#ff0000"/>
<rect x="172" y="708" width="1" height="3" fill="#ff0000"/>
<rect x="173" y="710" width="1" height="5" fill="#ff0000"/>
<rect x="174" y="714" width="1" height="3" fill="#ff0000"/>
<rect x="175" y="716" width="1" height="4" fill="#ff0000"/>
<rect x="176" y="719" width="1" height="2" fill="#ff0000"/>
<rect x="177" y="720" width="1" height="2" fill="#ff0000"/>
<rect x="178" y="721" width="1" height="2" fill="#ff0000"/>
<rect x="179" y="722" width="1" height="2" fill="#ff0000"/>
<rect x="180" y="719" width="1" height="6" fill="#ff0000"/>
<rect x="181" y="722" width="1" height="1" fill="#ff0000"/>
<rect x="182" y="722" width="1" height="3" fill="#ff0000"/>
<rect x="183" y="724" width="1" height="3" fill="#ff0000"/>
<rect x="184" y="726" width="1" height="2" fill="#ff0000"/>
<rect x="185" y="727" width="1" height="2" fill="#ff0000"/>
<rect x="186" y="728" width="1" height="2" fill="#ff0000"/>
<rect x="187" y="729" width="1" height="1" fill="#ff0000"/>
<rect x="188" y="729" width="1" height="1" fill="#ff0000"/>
<rect x="189" y="717" width="1" height="13" fill="#ff0000"/>
<rect x="190" y="729" width="1" height="1" fill="#ff0000"/>
<rect x="191" y="729" width="1" height="3" fill="#ff0000"/>
<rect x="192" y="731" width="1" height="2" fill="#ff0000"/>
<rect x="193" y="730" width="1" height="2" fill="#ff0000"/>
<rect x="194" y="728" width="1" height="3" fill="#ff0000"/>
<rect x="195" y="730" width="1" height="3" fill="#ff0000"/>
<rect x="196" y="732" width="1" height="1" fill="#ff0000"/>
<rect x="197" y="732" width="1" height="2" fill="#ff0000"/>
<rect x="198" y="733" width="1" height="1" fill="#ff0000"/>
<rect x="199" y="732" width="1" height="2" fill="#ff0000"/>
<rect x="200" y="732" width="1" height="3" fill="#ff0000"/>
<rect x="201" y="730" width="1" height="3" fill="#ff0000"/>
<rect x="202" y="730" width="1" height="2" fill="#ff0000"/>
<rect x="203" y="728" width="1" height="3" fill="#ff0000"/>
<rect x="204" y="728" width="1" height="5" fill="#ff0000"/>
<rect x="205" y="727" width="1" height="3" fill="#ff0000"/>
<rect x="206" y="720" width="1" height="8" fill="#ff0000"/>
<rect x="207" y="722" width="1" height="2" fill="#ff0000"/>
<rect x="208" y="723" width="1" height="4" fill="#ff0000"/>
<rect x="209" y="726" width="1" height="5" fill="#ff0000"/>
<rect x="210" y="727" width="1" height="4" fill="#ff0000"/>
<rect x="211" y="729" width="1" height="4" fill="#ff0000"/>
<rect x="212" y="730" width="1" height="3" fill="#ff0000"/>
<rect x="213" y="731" width="1" height="2" fill="#ff0000"/>
<rect x="214" y="730" width="1" height="3" fill="#ff0000"/>
<rect x="215" y="725" width="1" height="6" fill="#ff0000"/>
<rect x="216" y="730" width="1" height="4" fill="#ff0000"/>
<rect x="217" y="721" width="1" height="10" fill="#ff0000"/>
<rect x="218" y="728" width="1" height="4" fill="#ff0000"/>
<rect x="219" y="731" width="1" height="7" fill="#ff0000"/>
<rect x="220" y="734" width="1" height="5" fill="#ff0000"/>
<rect x="221" y="736" width="1" height="3" fill="#ff0000"/>
<rect x="222" y="738" width="1" height="1" fill="#ff0000"/>
<rect x="223" y="735" width="1" height="6" fill="#ff0000"/>
<rect x="224" y="738" width="1" height="2" fill="#ff0000"/>
<rect x="225" y="738" width="1" height="4" fill="#ff0000"/>
<rect x="226" y="734" width="1" height="6" fill="#ff0000"/>
<rect x="227" y="733" width="1" height="4" fill="#ff0000"/>
<rect x="228" y="736" width="1" height="6" fill="#ff0000"/>
<rect x="229" y="740" width="1" height="3" fill="#ff0000"/>
<rect x="230" y="740" width="1" height="3" fill="#ff0000"/>
<rect x="231" y="740" width="1" height="3" fill="#ff0000"/>
<rect x="232" y="729" width="1" height="12" fill="#ff0000"/>
<rect x="233" y="739" width="1" height="2" fill="#ff0000"/>
<rect x="234" y="735" width="1" height="5" fill="#ff0000"/>
<rect x="235" y="739" width="1" height="5" fill="#ff0000"/>
<rect x="236" y="742" width="1" height="1" fill="#ff0000"/>
<rect x="237" y="741" width="1" height="2" fill="#ff0000"/>
<rect x="238" y="740" width="1" height="3" fill="#ff0000"/>
<rect x="239" y="741" width="1" height="3" fill="#ff0000"/>
<rect x="240" y="742" width="1" height="1" fill="#ff0000"/>
<rect x="241" y="739" width="1" height="4" fill="#ff0000"/>
<rect x="242" y="740" width="1" height="2" fill="#ff0000"/>
<rect x="243" y="739" width="1" height="2" fill="#ff0000"/>
<rect x="244" y="740" width="1" height="2" fill="#ff0000"/>
<rect x="245" y="741" width="1" height="2" fill="#ff0000"/>
<rect x="246" y="740" width="1" height="3" fill="#ff0000"/>
<rect x="247" y="742" width="1" height="2" fill="#ff0000"/>
<rect x="248" y="742" width="1" height="3" fill="#ff0000"/>
<rect x="249" y="743" width="1" height="2" fill="#ff0000"/>
<rect x="250" y="743" width="1" height="2" fill="#ff0000"/>
<rect x="251" y="742" width="1" height="3" fill="#ff0000"/>
<rect x="252" y="744" width="1" height="1" fill="#ff0000"/>
<rect x="253" y="742" width="1" height="4" fill="#ff0000"/>
<rect x="254" y="743" width="1" height="3" fill="#ff0000"/>
<rect x="255" y="744" width="1" height="1" fill="#ff0000"/>
<rect x="256" y="743" width="1" height="3" fill="#ff0000"/>
<rect x="257" y="743" width="1" height="2" fill="#ff0000"/>
<rect x="258" y="737" width="1" height="7" fill="#ff0000"/>
<rect x="259" y="739" width="1" height="2" fill="#ff0000"/>
<rect x="260" y="738" width="1" height="4" fill="#ff0000"/>
<rect x="261" y="734" width="1" height="5" fill="#ff0000"/>
<rect x="262" y="731" width="1" height="4" fill="#ff0000"/>
<rect x="263" y="732" width="1" height="2" fill="#ff0000"/>
<rect x="264" y="731" width="1" height="3" fill="#ff0000"/>
<rect x="265" y="732" width="1" height="4" fill="#ff0000"/>
<rect x="266" y="735" width="1" height="1" fill="#ff0000"/>
<rect x="267" y="735" width="1" height="2" fill="#ff0000"/>
<rect x="268" y="735" width="1" height="3" fill="#ff0000"/>
<rect x="269" y="737" width="1" height="3" fill="#ff0000"/>
<rect x="270" y="736" width="1" height="4" fill="#ff0000"/>
<rect x="271" y="739" width="1" height="1" fill="#ff0000"/>
<rect x="272" y="737" width="1" height="4" fill="#ff0000"/>
<rect x="273" y="738" width="1" height="3" fill="#ff0000"/>
<rect x="274" y="738" width="1" height="4" fill="#ff0000"/>
<rect x="275" y="741" width="1" height="2" fill="#ff0000"/>
<rect x="276" y="739" width="1" height="4" fill="#ff0000"/>
<rect x="277" y="742" width="1" height="1" fill="#ff0000"/>
<rect x="278" y="740" width="1" height="4" fill="#ff0000"/>
<rect x="279" y="741" width="1" height="3" fill="#ff0000"/>
<rect x="280" y="731" width="1" height="14" fill="#ff0000"/>
<rect x="281" y="740" width="1" height="3" fill="#ff0000"/>
<rect x="282" y="741" width="1" height="2" fill="#ff0000"/>
<rect x="283" y="741" width="1" height="2" fill="#ff0000"/>
<rect x="284" y="739" width="1" height="3" fill="#ff0000"/>
<rect x="285" y="738" width="1" height="3" fill="#ff0000"/>
<rect x="286" y="735" width="1" height="4" fill="#ff0000"/>
<rect x="287" y="734" width="1" height="6" fill="#ff0000"/>
<rect x="288" y="731" width="1" height="5" fill="#ff0000"/>
<rect x="289" y="734" width="1" height="3" fill="#ff0000"/>
<rect x="290" y="720" width="1" height="19" fill="#ff0000"/>
<rect x="291" y="737" width="1" height="4" fill="#ff0000"/>
<rect x="292" y="737" width="1" height="5" fill="#ff0000"/>
<rect x="293" y="738" width="1" height="3" fill="#ff0000"/>
<rect x="294" y="732" width="1" height="7" fill="#ff0000"/>
<rect x="295" y="735" width="1" height="5" fill="#ff0000"/>
<rect x="296" y="719" width="1" height="21" fill="#ff0000"/>
<rect x="297" y="738" width="1" height="4" fill="#ff0000"/>
<rect x="298" y="735" width="1" height="8" fill="#ff0000"/>
<rect x="299" y="722" width="1" height="17" fill="#ff0000"/>
<rect x="300" y="735" width="1" height="4" fill="#ff0000"/>
<rect x="301" y="730" width="1" height="8" fill="#ff0000"/>
<rect x="302" y="721" width="1" height="11" fill="#ff0000"/>
<rect x="303" y="730" width="1" height="4" fill="#ff0000"/>
<rect x="304" y="714" width="1" height="24" fill="#ff0000"/>
<rect x="305" y="735" width="1" height="3" fill="#ff0000"/>
<rect x="306" y="734" width="1" height="5" fill="#ff0000"/>
<rect x="307" y="696" width="1" height="43" fill="#ff0000"/>
<rect x="308" y="728" width="1" height="5" fill="#ff0000"/>
<rect x="309" y="732" width="1" height="2" fill="#ff0000"/>
<rect x="310" y="728" width="1" height="5" fill="#ff0000"/>
<rect x="311" y="711" width="1" height="19" fill="#ff0000"/>
<rect x="312" y="727" width="1" height="4" fill="#ff0000"/>
<rect x="313" y="730" width="1" height="4" fill="#ff0000"/>
<rect x="314" y="731" width="1" height="3" fill="#ff0000"/>
<rect x="315" y="731" width="1" height="5" fill="#ff0000"/>
<rect x="316" y="732" width="1" height="4" fill="#ff0000"/>
<rect x="317" y="733" width="1" height="3" fill="#ff0000"/>
<rect x="318" y="718" width="1" height="16" fill="#ff0000"/>
<rect x="319" y="731" width="1" height="5" fill="#ff0000"/>
<rect x="320" y="732" width="1" height="4" fill="#ff0000"/>
<rect x="321" y="717" width="1" height="18" fill="#ff0000"/>
<rect x="322" y="729" width="1" height="6" fill="#ff0000"/>
<rect x="323" y="730" width="1" height="5" fill="#ff0000"/>
<rect x="324" y="726" width="1" height="5" fill="#ff0000"/>
<rect x="325" y="722" width="1" height="13" fill="#ff0000"/>
<rect x="326" y="730" width="1" height="4" fill="#ff0000"/>
<rect x="327" y="724" width="1" height="8" fill="#ff0000"/>
<rect x="328" y="729" width="1" height="2" fill="#ff0000"/>
<rect x="329" y="714" width="1" height="25" fill="#ff0000"/>
<rect x="330" y="738" width="1" height="1" fill="#ff0000"/>
<rect x="331" y="732" width="1" height="7" fill="#ff0000"/>
<rect x="332" y="728" width="1" height="6" fill="#ff0000"/>
<rect x="333" y="709" width="1" height="28" fill="#ff0000"/>
<rect x="334" y="732" width="1" height="6" fill="#ff0000"/>
<rect x="335" y="732" width="1" height="4" fill="#ff0000"/>
<rect x="336" y="728" width="1" height="5" fill="#ff0000"/>
<rect x="337" y="728" width="1" height="2" fill="#ff0000"/>
<rect x="338" y="728" width="1" height="4" fill="#ff0000"/>
<rect x="339" y="726" width="1" height="5" fill="#ff0000"/>
<rect x="340" y="729" width="1" height="5" fill="#ff0000"/>
<rect x="341" y="731" width="1" height="5" fill="#ff0000"/>
<rect x="342" y="725" width="1" height="14" fill="#ff0000"/>
<rect x="343" y="735" width="1" height="4" fill="#ff0000"/>
<rect x="344" y="734" width="1" height="4" fill="#ff0000"/>
<rect x="345" y="731" width="1" height="4" fill="#ff0000"/>
<rect x="346" y="728" width="1" height="5" fill="#ff0000"/>
<rect x="347" y="732" width="1" height="2" fill="#ff0000"/>
<rect x="348" y="731" width="1" height="6" fill="#ff0000"/>
<rect x="349" y="733" width="1" height="4" fill="#ff0000"/>
<rect x="350" y="736" width="1" height="2" fill="#ff0000"/>
<rect x="351" y="736" width="1" height="4" fill="#ff0000"/>
<rect x="352" y="736" width="1" height="3" fill="#ff0000"/>
<rect x="353" y="734" width="1" height="4" fill="#ff0000"/>
<rect x="354" y="736" width="1" height="4" fill="#ff0000"/>
<rect x="355" y="736" width="1" height="4" fill="#ff0000"/>
<rect x="356" y="739" width="1" height="2" fill="#ff0000"/>
<rect x="357" y="740" width="1" height="4" fill="#ff0000"/>
<rect x="358" y="728" width="1" height="15" fill="#ff0000"/>
<rect x="359" y="740" width="1" height="2" fill="#ff0000"/>
<rect x="360" y="740" width="1" height="2" fill="#ff0000"/>
<rect x="361" y="732" width="1" height="9" fill="#ff0000"/>
<rect x="362" y="736" width="1" height="5" fill="#ff0000"/>
<rect x="363" y="736" width="1" height="1" fill="#ff0000"/>
<rect x="364" y="726" width="1" height="11" fill="#ff0000"/>
<rect x="365" y="736" width="1" height="5" fill="#ff0000"/>
<rect x="366" y="737" width="1" height="4" fill="#ff0000"/>
<rect x="367" y="737" width="1" height="5" fill="#ff0000"/>
<rect x="368" y="738" width="1" height="5" fill="#ff0000"/>
<rect x="369" y="740" width="1" height="2" fill="#ff0000"/>
<rect x="370" y="739" width="1" height="2" fill="#ff0000"/>
<rect x="371" y="740" width="1" height="2" fill="#ff0000"/>
<rect x="372" y="740" width="1" height="3" fill="#ff0000"/>
<rect x="373" y="741" width="1" height="2" fill="#ff0000"/>
<rect x="374" y="710" width="1" height="32" fill="#ff0000"/>
<rect x="375" y="736" width="1" height="1" fill="#ff0000"/>
<rect x="376" y="735" width="1" height="3" fill="#ff0000"/>
<rect x="377" y="736" width="1" height="3" fill="#ff0000"/>
<rect x="378" y="738" width="1" height="1" fill="#ff0000"/>
<rect x="379" y="730" width="1" height="9" fill="#ff0000"/>
<rect x="380" y="735" width="1" height="2" fill="#ff0000"/>
<rect x="381" y="736" width="1" height="5" fill="#ff0000"/>
<rect x="382" y="729" width="1" height="8" fill="#ff0000"/>
<rect x="383" y="728" width="1" height="6" fill="#ff0000"/>
<rect x="384" y="727" width="1" height="2" fill="#ff0000"/>
<rect x="385" y="728" width="1" height="8" fill="#ff0000"/>
<rect x="386" y="731" width="1" height="2" fill="#ff0000"/>
<rect x="387" y="732" width="1" height="7" fill="#ff0000"/>
<rect x="388" y="728" width="1" height="5" fill="#ff0000"/>
<rect x="389" y="730" width="1" height="4" fill="#ff0000"/>
<rect x="390" y="733" width="1" height="5" fill="#ff0000"/>
<rect x="391" y="727" width="1" height="7" fill="#ff0000"/>
<rect x="392" y="733" width="1" height="4" fill="#ff0000"/>
<rect x="393" y="736" width="1" height="3" fill="#ff0000"/>
<rect x="394" y="737" width="1" height="5" fill="#ff0000"/>
<rect x="395" y="737" width="1" height="5" fill="#ff0000"/>
<rect x="396" y="734" width="1" height="4" fill="#ff0000"/>
<rect x="397" y="733" width="1" height="5" fill="#ff0000"/>
<rect x="398" y="736" width="1" height="5" fill="#ff0000"/>
<rect x="399" y="737" width="1" height="3" fill="#ff0000"/>
<rect x="400" y="738" width="1" height="4" fill="#ff0000"/>
<rect x="401" y="741" width="1" height="4" fill="#ff0000"/>
<rect x="402" y="742" width="1" height="3" fill="#ff0000"/>
<rect x="403" y="742" width="1" height="2" fill="#ff0000"/>
<rect x="404" y="741" width="1" height="2" fill="#ff0000"/>
<rect x="405" y="740" width="1" height="4" fill="#ff0000"/>
<rect x="406" y="741" width="1" height="1" fill="#ff0000"/>
<rect x="407" y="739" width="1" height="3" fill="#ff0000"/>
<rect x="408" y="741" width="1" height="2" fill="#ff0000"/>
<rect x="409" y="741" width="1" height="3" fill="#ff0000"/>
<rect x="410" y="741" width="1" height="1" fill="#ff0000"/>
<rect x="411" y="739" width="1" height="3" fill="#ff0000"/>
<rect x="412" y="741" width="1" height="2" fill="#ff0000"/>
<rect x="413" y="741" width="1" height="3" fill="#ff0000"/>
<rect x="414" y="742" width="1" height="2" fill="#ff0000"/>
<rect x="415" y="740" width="1" height="3" fill="#ff0000"/>
<rect x="416" y="742" width="1" height="4" fill="#ff0000"/>
<rect x="417" y="742" width="1" height="2" fill="#ff0000"/>
<rect x="418" y="741" width="1" height="3" fill="#ff0000"/>
<rect x="419" y="742" width="1" height="1" fill="#ff0000"/>
<rect x="420" y="742" width="1" height="1" fill="#ff0000"/>
<rect x="421" y="740" width="1" height="3" fill="#ff0000"/>
<rect x="422" y="741" width="1" height="4" fill="#ff0000"/>
<rect x="423" y="740" width="1" height="3" fill="#ff0000"/>
<rect x="424" y="740" width="1" height="4" fill="#ff0000"/>
<rect x="425" y="740" width="1" height="4" fill="#ff0000"/>
<rect x="426" y="739" width="1" height="2" fill="#ff0000"/>
<rect x="427" y="729" width="1" height="11" fill="#ff0000"/>
<rect x="428" y="728" width="1" height="4" fill="#ff0000"/>
<rect x="429" y="731" width="1" height="4" fill="#ff0000"/>
<rect x="430" y="734" width="1" height="4" fill="#ff0000"/>
<rect x="431" y="737" width="1" height="4" fill="#ff0000"/>
<rect x="432" y="740" width="1" height="4" fill="#ff0000"/>
<rect x="433" y="741" width="1" height="3" fill="#ff0000"/>
<rect x="434" y="741" width="1" height="4" fill="#ff0000"/>
<rect x="435" y="736" width="1" height="6" fill="#ff0000"/>
<rect x="436" y="735" width="1" height="4" fill="#ff0000"/>
<rect x="437" y="730" width="1" height="6" fill="#ff0000"/>
<rect x="438" y="735" width="1" height="4" fill="#ff0000"/>
<rect x="439" y="738" width="1" height="2" fill="#ff0000"/>
<rect x="440" y="736" width="1" height="3" fill="#ff0000"/>
<rect x="441" y="738" width="1" height="3" fill="#ff0000"/>
<rect x="442" y="740" width="1" height="3" fill="#ff0000"/>
<rect x="443" y="739" width="1" height="3" fill="#ff0000"/>
<rect x="444" y="739" width="1" height="4" fill="#ff0000"/>
<rect x="445" y="739" width="1" height="4" fill="#ff0000"/>
<rect x="446" y="740" width="1" height="3" fill="#ff0000"/>
<rect x="447" y="740" width="1" height="2" fill="#ff0000"/>
<rect x="448" y="738" width="1" height="4" fill="#ff0000"/>
<rect x="449" y="726" width="1" height="13" fill="#ff0000"/>
<rect x="450" y="738" width="1" height="2" fill="#ff0000"/>
<rect x="451" y="735" width="1" height="4" fill="#ff0000"/>
<rect x="452" y="737" width="1" height="4" fill="#ff0000"/>
<rect x="453" y="736" width="1" height="5" fill="#ff0000"/>
<rect x="454" y="732" width="1" height="5" fill="#ff0000"/>
<rect x="455" y="736" width="1" height="5" fill="#ff0000"/>
<rect x="456" y="738" width="1" height="3" fill="#ff0000"/>
<rect x="457" y="729" width="1" height="10" fill="#ff0000"/>
<rect x="458" y="730" width="1" height="5" fill="#ff0000"/>
<rect x="459" y="734" width="1" height="5" fill="#ff0000"/>
<rect x="460" y="735" width="1" height="5" fill="#ff0000"/>
<rect x="461" y="736" width="1" height="3" fill="#ff0000"/>
<rect x="462" y="736" width="1" height="2" fill="#ff0000"/>
<rect x="463" y="733" width="1" height="6" fill="#ff0000"/>
<rect x="464" y="736" width="1" height="5" fill="#ff0000"/>
<rect x="465" y="738" width="1" height="2" fill="#ff0000"/>
<rect x="466" y="739" width="1" height="5" fill="#ff0000"/>
<rect x="467" y="742" width="1" height="1" fill="#ff0000"/>
<rect x="468" y="736" width="1" height="7" fill="#ff0000"/>
<rect x="469" y="733" width="1" height="4" fill="#ff0000"/>
<rect x="470" y="736" width="1" height="7" fill="#ff0000"/>
<rect x="471" y="739" width="1" height="4" fill="#ff0000"/>
<rect x="472" y="739" width="1" height="3" fill="#ff0000"/>
<rect x="473" y="739" width="1" height="1" fill="#ff0000"/>
<rect x="474" y="729" width="1" height="11" fill="#ff0000"/>
<rect x="475" y="736" width="1" height="2" fill="#ff0000"/>
<rect x="476" y="729" width="1" height="8" fill="#ff0000"/>
<rect x="477" y="734" width="1" height="3" fill="#ff0000"/>
<rect x="478" y="736" width="1" height="5" fill="#ff0000"/>
<rect x="479" y="738" width="1" height="6" fill="#ff0000"/>
<rect x="480" y="741" width="1" height="6" fill="#ff0000"/>
<rect x="481" y="743" width="1" height="1" fill="#ff0000"/>
<rect x="482" y="742" width="1" height="2" fill="#ff0000"/>
<rect x="483" y="727" width="1" height="16" fill="#ff0000"/>
<rect x="484" y="737" width="1" height="1" fill="#ff0000"/>
<rect x="485" y="737" width="1" height="3" fill="#ff0000"/>
<rect x="486" y="736" width="1" height="2" fill="#ff0000"/>
<rect x="487" y="733" width="1" height="6" fill="#ff0000"/>
<rect x="488" y="722" width="1" height="12" fill="#ff0000"/>
<rect x="489" y="733" width="1" height="2" fill="#ff0000"/>
<rect x="490" y="724" width="1" height="10" fill="#ff0000"/>
<rect x="491" y="733" width="1" height="4" fill="#ff0000"/>
<rect x="492" y="736" width="1" height="6" fill="#ff0000"/>
<rect x="493" y="741" width="1" height="3" fill="#ff0000"/>
<rect x="494" y="743" width="1" height="2" fill="#ff0000"/>
<rect x="495" y="743" width="1" height="3" fill="#ff0000"/>
<rect x="496" y="741" width="1" height="4" fill="#ff0000"/>
<rect x="497" y="741" width="1" height="6" fill="#ff0000"/>
<rect x="498" y="740" width="1" height="6" fill="#ff0000"/>
<rect x="499" y="742" width="1" height="4" fill="#ff0000"/>
<rect x="500" y="744" width="1" height="3" fill="#ff0000"/>
<rect x="501" y="743" width="1" height="2" fill="#ff0000"/>
<rect x="502" y="740" width="1" height="4" fill="#ff0000"/>
<rect x="503" y="739" width="1" height="4" fill="#ff0000"/>
<rect x="504" y="740" width="1" height="3" fill="#ff0000"/>
<rect x="505" y="718" width="1" height="26" fill="#ff0000"/>
<rect x="506" y="743" width="1" height="6" fill="#ff0000"/>
<rect x="507" y="746" width="1" height="2" fill="#ff0000"/>
<rect x="508" y="743" width="1" height="4" fill="#ff0000"/>
<rect x="509" y="743" width="1" height="4" fill="#ff0000"/>
<rect x="510" y="739" width="1" height="5" fill="#ff0000"/>
<rect x="511" y="739" width="1" height="1" fill="#ff0000"/>
<rect x="512" y="723" width="1" height="17" fill="#ff0000"/>
<rect x="513" y="737" width="1" height="2" fill="#ff0000"/>
<rect x="514" y="738" width="1" height="4" fill="#ff0000"/>
<rect x="515" y="741" width="1" height="5" fill="#ff0000"/>
<rect x="516" y="742" width="1" height="3" fill="#ff0000"/>
<rect x="517" y="744" width="1" height="4" fill="#ff0000"/>
<rect x="518" y="745" width="1" height="3" fill="#ff0000"/>
<rect x="519" y="734" width="1" height="13" fill="#ff0000"/>
<rect x="520" y="743" width="1" height="1" fill="#ff0000"/>
<rect x="521" y="743" width="1" height="2" fill="#ff0000"/>
<rect x="522" y="735" width="1" height="9" fill="#ff0000"/>
<rect x="523" y="734" width="1" height="2" fill="#ff0000"/>
<rect x="524" y="729" width="1" height="6" fill="#ff0000"/>
<rect x="525" y="734" width="1" height="4" fill="#ff0000"/>
<rect x="526" y="737" width="1" height="4" fill="#ff0000"/>
<rect x="527" y="740" width="1" height="6" fill="#ff0000"/>
<rect x="528" y="744" width="1" height="4" fill="#ff0000"/>
<rect x="529" y="744" width="1" height="5" fill="#ff0000"/>
<rect x="530" y="746" width="1" height="4" fill="#ff0000"/>
<rect x="531" y="746" width="1" height="3" fill="#ff0000"/>
<rect x="532" y="745" width="1" height="4" fill="#ff0000"/>
<rect x="533" y="747" width="1" height="4" fill="#ff0000"/>
<rect x="534" y="745" width="1" height="5" fill="#ff0000"/>
<rect x="535" y="743" width="1" height="4" fill="#ff0000"/>
<rect x="536" y="730" width="1" height="14" fill="#ff0000"/>
<rect x="537" y="741" width="1" height="4" fill="#ff0000"/>
<rect x="538" y="744" width="1" height="2" fill="#ff0000"/>
<rect x="539" y="743" width="1" height="3" fill="#ff0000"/>
<rect x="540" y="743" width="1" height="4" fill="#ff0000"/>
<rect x="541" y="742" width="1" height="5" fill="#ff0000"/>
<rect x="542" y="740" width="1" height="6" fill="#ff0000"/>
<rect x="543" y="745" width="1" height="5" fill="#ff0000"/>
<rect x="544" y="745" width="1" height="2" fill="#ff0000"/>
<rect x="545" y="741" width="1" height="5" fill="#ff0000"/>
<rect x="546" y="745" width="1" height="5" fill="#ff0000"/>
<rect x="547" y="739" width="1" height="7" fill="#ff0000"/>
<rect x="548" y="745" width="1" height="4" fill="#ff0000"/>
<rect x="549" y="738" width="1" height="8" fill="#ff0000"/>
<rect x="550" y="744" width="1" height="4" fill="#ff0000"/>
<rect x="551" y="743" width="1" height="3" fill="#ff0000"/>
<rect x="552" y="728" width="1" height="21" fill="#ff0000"/>
<rect x="553" y="744" width="1" height="4" fill="#ff0000"/>
<rect x="554" y="745" width="1" height="2" fill="#ff0000"/>
<rect x="555" y="745" width="1" height="5" fill="#ff0000"/>
<rect x="82" y="759" width="1" height="3" fill="#0000ff"/>
<rect x="87" y="724" width="1" height="38" fill="#0000ff"/>
<rect x="113" y="757" width="1" height="5" fill="#0000ff"/>
<rect x="117" y="751" width="1" height="11" fill="#0000ff"/>
<rect x="132" y="741" width="1" height="21" fill="#0000ff"/>
<rect x="136" y="741" width="1" height="21" fill="#0000ff"/>
<rect x="154" y="736" width="1" height="26" fill="#0000ff"/>
<rect x="155" y="689" width="1" height="73" fill="#0000ff"/>
<rect x="156" y="689" width="1" height="8" fill="#0000ff"/>
<rect x="157" y="696" width="1" height="25" fill="#0000ff"/>
<rect x="158" y="720" width="1" height="22" fill="#0000ff"/>
<rect x="159" y="741" width="1" height="10" fill="#0000ff"/>
<rect x="160" y="750" width="1" height="12" fill="#0000ff"/>
<rect x="307" y="741" width="1" height="21" fill="#0000ff"/>
<rect x="51" y="761" width="505" height="1" fill="#000"/>
</svg></body></html>
